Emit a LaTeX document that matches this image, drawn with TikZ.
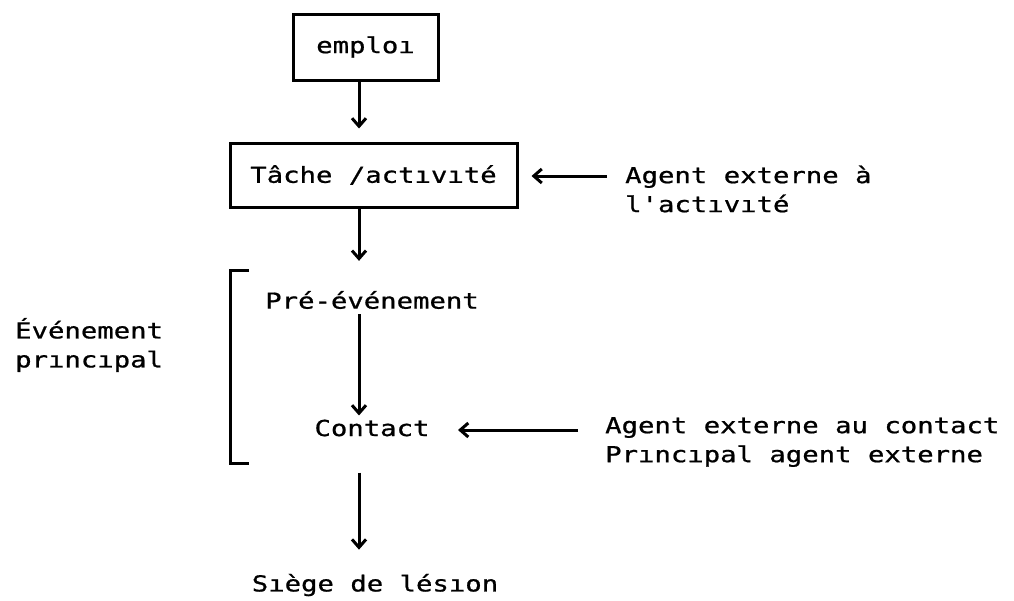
\documentclass[tikz,border=0pt]{standalone}
\usepackage{fontspec}
\newfontfamily\mono[FakeStretch=1.24,FakeBold=0.8]{DejaVu Sans Mono}
\usetikzlibrary{arrows.meta}
\tikzset{
  lbl/.style={font=\mono\fontsize{22}{29}\selectfont, inner sep=0pt, align=left},
  boxnode/.style={draw, line width=3pt, font=\mono\fontsize{22}{29}\selectfont},
  arr/.style={line width=3pt, -{Straight Barb[length=8pt,width=14pt,line width=3pt]}},
  brk/.style={line width=3pt}
}
\begin{document}
\begin{tikzpicture}[x=1pt,y=-1pt]
\useasboundingbox (0,0) rectangle (1014,600);
\coordinate (spine) at (359,0);
\node[boxnode, minimum width=145pt, minimum height=66pt] (emploi) at (365.5,47) {emploı};
\node[boxnode, minimum width=287pt, minimum height=64pt] (tache) at (373.5,175) {Tâche /actıvıté};
\node[lbl, anchor=west] (agent1) at (625,189) {Agent externe à\\l'actıvıté};
\node[lbl] (pre) at (372,300) {Pré-événement};
\node[lbl] (contact) at (372,428) {Contact};
\node[lbl, anchor=west] (agent2) at (605,442) {Agent externe au contact\\Prıncıpal agent externe};
\node[lbl, anchor=west] (evt) at (15,345) {Événement\\prıncıpal};
\node[lbl] (siege) at (375,585) {Sıège de lésıon};
\coordinate (brtop) at (230,270);
\coordinate (brbot) at (230,463);
\coordinate (a1s) at (607,176);
\coordinate (a2s) at (578,430);
% vertical connectors
\draw[arr, shorten >=13pt] (emploi.south -| spine) -- (tache.north -| spine);
\draw[arr, shorten >=30pt] (tache.south -| spine) -- (pre.north -| spine);
\draw[arr, shorten <=5pt, shorten >=4pt] (pre.south -| spine) -- (contact.north -| spine);
\draw[arr, shorten <=36pt, shorten >=24pt] (contact.south -| spine) -- (siege.north -| spine);
% horizontal connectors
\draw[arr, shorten >=13pt] (a1s) -- (tache.east |- a1s);
\draw[arr] (a2s) -- (458,430);
% bracket
\draw[brk] ([xshift=19pt]brtop) -- (brtop) -- (brbot) -- ([xshift=19pt]brbot);
\end{tikzpicture}
\end{document}
